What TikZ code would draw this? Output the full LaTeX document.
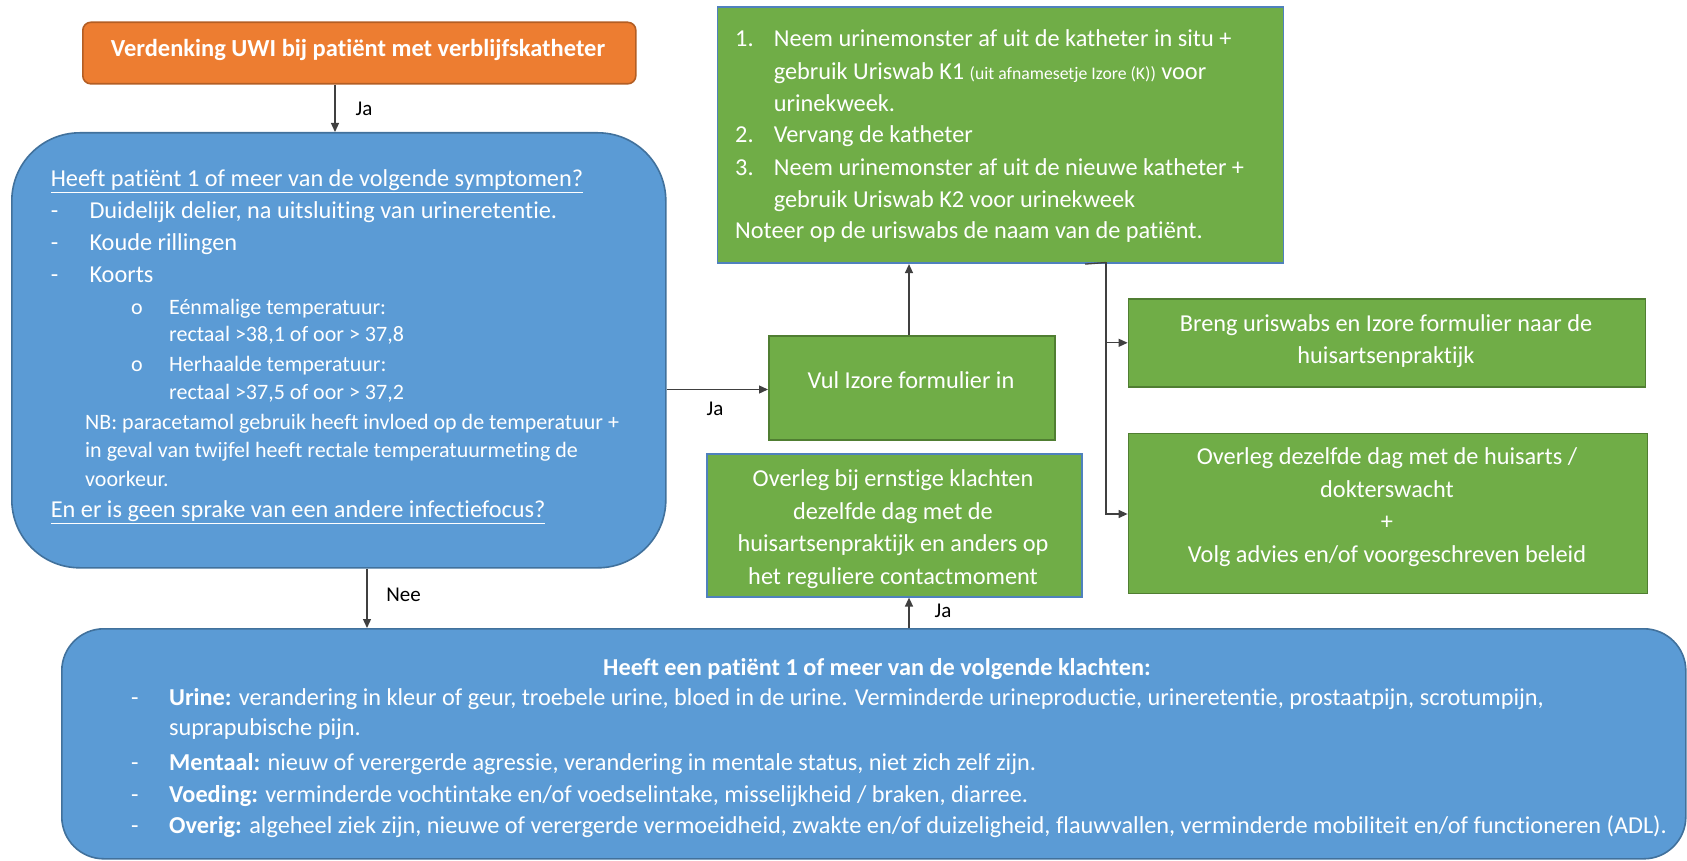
\documentclass[tikz,border=0pt]{standalone}
\usepackage{fontspec}
\setmainfont{Carlito}[Ligatures=NoCommon]
\usetikzlibrary{arrows.meta}
\definecolor{uwiorange}{HTML}{ED7D31}
\definecolor{uwiorangeedge}{HTML}{B35E24}
\definecolor{uwiblue}{HTML}{5B9BD5}
\definecolor{uwiblueedge}{HTML}{41719C}
\definecolor{uwigreen}{HTML}{70AD47}
\definecolor{uwigreenedge}{HTML}{507E32}
\definecolor{uwiframe}{HTML}{4F81BD}
\definecolor{uwiline}{HTML}{404040}
\tikzset{
  box/.style={rectangle, anchor=north west, inner sep=0pt, line width=1.6pt},
  orangebox/.style={box, fill=uwiorange, draw=uwiorangeedge, rounded corners=8pt},
  bluebox/.style={box, fill=uwiblue, draw=uwiblueedge},
  greenbox/.style={box, fill=uwigreen, draw=uwigreenedge},
  framedgreen/.style={box, fill=uwigreen, draw=uwiframe},
  txt/.style={anchor=west, inner sep=0pt, text=white, font=\fontsize{24.3}{28}\selectfont,
              text height=15pt, text depth=0pt},
  smalltxt/.style={txt, font=\fontsize{22}{26}\selectfont, text height=14pt, text depth=1pt},
  ctxt/.style={inner sep=0pt, text=white, align=center, font=\fontsize{24.3}{32.5}\selectfont},
  lbl/.style={inner sep=0pt, text=black, font=\fontsize{21}{24}\selectfont},
  conn/.style={draw=uwiline, line width=1.3pt},
  arr/.style={conn, -{Triangle[length=9pt,width=8pt]}},
}
\begin{document}
\begin{tikzpicture}[x=1pt,y=-1pt]
\useasboundingbox (0,0) rectangle (1687,861);

% ---- boxes ----
\node[orangebox, minimum width=553pt, minimum height=61.5pt] (start) at (82,21.5) {};
\node[bluebox, rounded corners=68pt, minimum width=654pt, minimum height=435pt] (symptoms) at (11,132) {};
\node[framedgreen, minimum width=566pt, minimum height=256pt] (sample) at (716.6,6.5) {};
\node[greenbox, minimum width=286pt, minimum height=104pt] (form) at (768,335) {};
\node[greenbox, minimum width=517pt, minimum height=88pt] (bring) at (1127.6,298) {};
\node[greenbox, minimum width=519pt, minimum height=160pt] (consult) at (1127.6,432.5) {};
\node[framedgreen, minimum width=375pt, minimum height=143pt] (serious) at (706,453) {};
\node[bluebox, rounded corners=42pt, minimum width=1624pt, minimum height=230pt] (complaints) at (61,628) {};

% ---- start ----
\node[inner sep=0pt, text=white, font=\fontsize{24.5}{28}\selectfont\bfseries] (starttxt) at (358,50) {Verdenking UWI bij patiënt met verblijfskatheter};

% ---- symptoms ----
\node[txt] (s0) at (50.6,179) {\underline{Heeft patiënt 1 of meer van de volgende symptomen?}};
\node[txt] (s1d) at (50.6,211) {-};
\node[txt] (s1) at (89.3,211) {Duidelijk delier, na uitsluiting van urineretentie.};
\node[txt] (s2d) at (50.6,243) {-};
\node[txt] (s2) at (89.3,243) {Koude rillingen};
\node[txt] (s3d) at (50.6,275) {-};
\node[txt] (s3) at (89.3,275) {Koorts};
\node[smalltxt] (s4d) at (131,307.5) {o};
\node[smalltxt] (s4) at (169,307.5) {Eénmalige temperatuur:};
\node[smalltxt] (s5) at (169,334.5) {rectaal >38,1 of oor > 37,8};
\node[smalltxt] (s6d) at (131,364.5) {o};
\node[smalltxt] (s6) at (169,364.5) {Herhaalde temperatuur:};
\node[smalltxt] (s7) at (169,392.5) {rectaal >37,5 of oor > 37,2};
\node[smalltxt] (s8) at (85,422.5) {NB: paracetamol gebruik heeft invloed op de temperatuur +};
\node[smalltxt] (s9) at (85,450.5) {in geval van twijfel heeft rectale temperatuurmeting de};
\node[smalltxt] (s10) at (85,479.5) {voorkeur.};
\node[txt] (s11) at (50.6,510) {\underline{En er is geen sprake van een andere infectiefocus?}};

% ---- sample steps ----
\node[txt] (p1n) at (735,39) {1.};
\node[txt] (p1) at (773.6,39) {Neem urinemonster af uit de katheter in situ +};
\node[txt] (p1b) at (773.6,72) {gebruik Uriswab K1 {\fontsize{17.7}{20}\selectfont(uit afnamesetje Izore (K))} voor};
\node[txt] (p1c) at (773.6,104) {urinekweek.};
\node[txt] (p2n) at (735,135.5) {2.};
\node[txt] (p2) at (773.6,135.5) {Vervang de katheter};
\node[txt] (p3n) at (735,168) {3.};
\node[txt] (p3) at (773.6,168) {Neem urinemonster af uit de nieuwe katheter +};
\node[txt] (p3b) at (773.6,200) {gebruik Uriswab K2 voor urinekweek};
\node[txt] (p4) at (735,231) {Noteer op de uriswabs de naam van de patiënt.};

% ---- centred texts ----
\node[ctxt] (formtxt) at (911,380) {Vul Izore formulier in};
\node[ctxt] (bringtxt) at (1386,341) {Breng uriswabs en Izore formulier naar de\\huisartsenpraktijk};
\node[ctxt] (consulttxt) at (1387,507) {Overleg dezelfde dag met de huisarts /\\dokterswacht\\+\\Volg advies en/of voorgeschreven beleid};
\node[ctxt] (serioustxt) at (893,529) {Overleg bij ernstige klachten\\dezelfde dag met de\\huisartsenpraktijk en anders op\\het reguliere contactmoment};

% ---- complaints ----
\node[inner sep=0pt, text=white, font=\fontsize{24.3}{28}\selectfont\bfseries] (c0) at (877,669) {Heeft een patiënt 1 of meer van de volgende klachten:};
\node[txt] (c1d) at (131,698) {-};
\node[txt] (c1) at (169,698) {\textbf{Urine:} verandering in kleur of geur, troebele urine, bloed in de urine. Verminderde urineproductie, urineretentie, prostaatpijn, scrotumpijn,};
\node[txt] (c1b) at (169,728) {suprapubische pijn.};
\node[txt] (c2d) at (131,763) {-};
\node[txt] (c2) at (169,763) {\textbf{Mentaal:} nieuw of verergerde agressie, verandering in mentale status, niet zich zelf zijn.};
\node[txt] (c3d) at (131,795) {-};
\node[txt] (c3) at (169,795) {\textbf{Voeding:} verminderde vochtintake en/of voedselintake, misselijkheid / braken, diarree.};
\node[txt] (c4d) at (131,826) {-};
\node[txt] (c4) at (169,826) {\textbf{Overig:} algeheel ziek zijn, nieuwe of verergerde vermoeidheid, zwakte en/of duizeligheid, flauwvallen, verminderde mobiliteit en/of functioneren (ADL).};

% ---- connectors ----
\draw[arr] (start.south -| 335,0) -- (symptoms.north -| 335,0);
\node[lbl] (ja1) at (364,109) {Ja};

\draw[arr] (symptoms.east |- 0,389.5) -- (form.west |- 0,389.5);
\node[lbl] (ja2) at (715,409) {Ja};

\draw[arr] (symptoms.south -| 367,0) -- (complaints.north -| 367,0);
\node[lbl] (nee) at (403.5,595) {Nee};

\draw[arr] (form.north -| 909,0) -- (sample.south -| 909,0);

\draw[arr] (complaints.north -| 909,0) -- (serious.south -| 909,0);
\node[lbl] (ja3) at (943,611) {Ja};

\coordinate (split) at (1106,262.5);
\draw[conn] (sample.south -| 1085,0) -- (split);
\draw[arr] (split) |- (bring.west);
\draw[arr] (split) |- (consult.west |- 0,514);
\end{tikzpicture}
\end{document}
